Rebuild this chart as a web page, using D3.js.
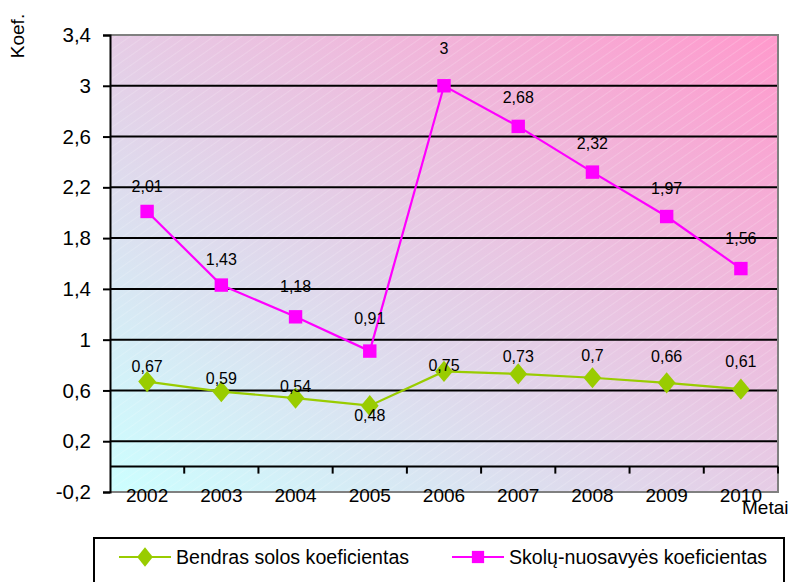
<!DOCTYPE html>
<html>
<head>
<meta charset="utf-8">
<script src="https://cdn.jsdelivr.net/npm/d3@7"></script>
<style>
  html, body { margin: 0; padding: 0; background: #ffffff; }
  svg { display: block; font-family: "Liberation Sans", Arial, sans-serif; }
</style>
</head>
<body>
<svg id="chart" width="790" height="582"></svg>
<script>
// Years on the category axis
const years = ["2002", "2003", "2004", "2005", "2006", "2007", "2008", "2009", "2010"];
// Overall solvency ratio
const bendras = [0.67, 0.59, 0.54, 0.48, 0.75, 0.73, 0.70, 0.66, 0.61];
// Debt-to-equity ratio
const skolu = [2.01, 1.43, 1.18, 0.91, 3.00, 2.68, 2.32, 1.97, 1.56];
// Value-axis ticks
const yTicks = [-0.2, 0.2, 0.6, 1.0, 1.4, 1.8, 2.2, 2.6, 3.0, 3.4];
// Series names
const seriesNames = ["Bendras solos koeficientas", "Skolų-nuosavyės koeficientas"];
// Vertical offsets of the value labels from their points (px)
const bendrasLabelDy = [-15, -13, -12, 10, -6, -18, -22, -26, -28];
const skoluLabelDy = [-25, -26, -30, -33, -37, -29, -29, -28, -30];

const svg = d3.select("#chart");
const plot = { left: 110, right: 778, top: 35, bottom: 492 };

const x = d3.scaleBand().domain(years).range([plot.left, plot.right]);
const y = d3.scaleLinear().domain([-0.2, 3.4]).range([plot.bottom, plot.top]);
const cx = d => x(d) + x.bandwidth() / 2;
const fmt = v => String(+v.toFixed(2)).replace(".", ",");

// Plot background: diagonal gradient plus faint hatching
const defs = svg.append("defs");
const grad = defs.append("linearGradient").attr("id", "bg")
  .attr("x1", 0).attr("y1", 1).attr("x2", 1).attr("y2", 0);
grad.append("stop").attr("offset", "0%").attr("stop-color", "#ccffff");
grad.append("stop").attr("offset", "100%").attr("stop-color", "#ff99cc");

const hatch = defs.append("pattern").attr("id", "hatch")
  .attr("patternUnits", "userSpaceOnUse").attr("width", 8).attr("height", 8)
  .attr("patternTransform", "rotate(-35)");
hatch.append("line").attr("x1", 0).attr("y1", 0).attr("x2", 8).attr("y2", 0)
  .attr("stroke", "#ffffff").attr("stroke-width", 1).attr("stroke-opacity", 0.35);

svg.append("rect")
  .attr("x", plot.left).attr("y", plot.top)
  .attr("width", plot.right - plot.left).attr("height", plot.bottom - plot.top)
  .attr("fill", "url(#bg)");
svg.append("rect")
  .attr("x", plot.left).attr("y", plot.top)
  .attr("width", plot.right - plot.left).attr("height", plot.bottom - plot.top)
  .attr("fill", "url(#hatch)");

// Horizontal gridlines (inner ticks)
svg.append("g").selectAll("line")
  .data(yTicks.filter(t => t > -0.2 && t < 3.4))
  .join("line")
  .attr("x1", plot.left).attr("x2", plot.right)
  .attr("y1", d => y(d)).attr("y2", d => y(d))
  .attr("stroke", "#000").attr("stroke-width", 2);

// Plot frame (top, right, bottom) in grey
svg.append("path")
  .attr("d", `M${plot.left},${y(3.4)}H${plot.right}V${y(-0.2)}H${plot.left}`)
  .attr("fill", "none").attr("stroke", "#808080").attr("stroke-width", 2);

// Category axis crossing at zero, with tick marks between categories
svg.append("line")
  .attr("x1", plot.left).attr("x2", plot.right)
  .attr("y1", y(0)).attr("y2", y(0))
  .attr("stroke", "#000").attr("stroke-width", 2);
svg.append("g").selectAll("line")
  .data(years.slice(1).concat(["end"]))
  .join("line")
  .attr("x1", (d, i) => i < years.length - 1 ? x(d) : plot.right)
  .attr("x2", (d, i) => i < years.length - 1 ? x(d) : plot.right)
  .attr("y1", y(0)).attr("y2", y(0) + 7)
  .attr("stroke", "#000").attr("stroke-width", 2);

// Value axis
const yAxis = svg.append("g")
  .attr("transform", `translate(${plot.left},0)`)
  .call(d3.axisLeft(y).tickValues(yTicks).tickSize(7).tickPadding(12).tickFormat(fmt));
yAxis.select(".domain").attr("stroke", "#000").attr("stroke-width", 2);
yAxis.selectAll(".tick line").attr("stroke", "#000").attr("stroke-width", 2);
yAxis.selectAll(".tick text").attr("font-size", 20.5).attr("fill", "#000")
  .attr("font-family", "Liberation Sans, Arial, sans-serif");

// Category labels
svg.append("g").selectAll("text")
  .data(years)
  .join("text")
  .attr("x", d => cx(d)).attr("y", 502)
  .attr("text-anchor", "middle")
  .attr("font-size", 19).attr("fill", "#000")
  .text(d => d);

// Axis titles
svg.append("text")
  .attr("transform", "translate(24,36) rotate(-90)")
  .attr("text-anchor", "middle").attr("font-size", 19).attr("fill", "#000")
  .text("Koef.");
svg.append("text")
  .attr("x", 742).attr("y", 514)
  .attr("font-size", 19).attr("fill", "#000")
  .text("Metai");

// Series
const line = d3.line().x((d, i) => cx(years[i])).y(d => y(d));

function drawSeries(values, color, shape, dys) {
  const g = svg.append("g");
  g.append("path").datum(values)
    .attr("d", line).attr("fill", "none")
    .attr("stroke", color).attr("stroke-width", 2.2);
  const sym = d3.symbol().type(shape === "square" ? d3.symbolSquare : d3.symbolDiamond)
    .size(shape === "square" ? 180 : 130);
  g.selectAll("path.pt").data(values).join("path")
    .attr("class", "pt")
    .attr("transform", (d, i) => `translate(${cx(years[i])},${y(d)})` + (shape === "square" ? "" : " scale(1.45,1)"))
    .attr("d", sym).attr("fill", color);
  g.selectAll("text").data(values).join("text")
    .attr("x", (d, i) => cx(years[i]))
    .attr("y", (d, i) => y(d) + dys[i])
    .attr("dy", "0.35em")
    .attr("text-anchor", "middle")
    .attr("font-size", 16).attr("fill", "#000")
    .text(d => fmt(d));
}

drawSeries(bendras, "#99cc00", "diamond", bendrasLabelDy);
drawSeries(skolu, "#ff00ff", "square", skoluLabelDy);

// Legend
const lg = svg.append("g");
lg.append("rect")
  .attr("x", 94).attr("y", 538).attr("width", 690).attr("height", 60)
  .attr("fill", "#fff").attr("stroke", "#000").attr("stroke-width", 2);
const legendItems = [
  { name: seriesNames[0], color: "#99cc00", shape: "diamond", x0: 119 },
  { name: seriesNames[1], color: "#ff00ff", shape: "square", x0: 452 }
];
legendItems.forEach(it => {
  const ly = 557;
  lg.append("line").attr("x1", it.x0).attr("x2", it.x0 + 52)
    .attr("y1", ly).attr("y2", ly).attr("stroke", it.color).attr("stroke-width", 2.2);
  const sym = d3.symbol().type(it.shape === "square" ? d3.symbolSquare : d3.symbolDiamond)
    .size(it.shape === "square" ? 150 : 110);
  lg.append("path")
    .attr("transform", `translate(${it.x0 + 26},${ly})` + (it.shape === "square" ? "" : " scale(1.4,1)"))
    .attr("d", sym).attr("fill", it.color);
  lg.append("text").attr("x", it.x0 + 57).attr("y", ly).attr("dy", "0.35em")
    .attr("font-size", 19.6).attr("fill", "#000").text(it.name);
});
</script>
</body>
</html>
